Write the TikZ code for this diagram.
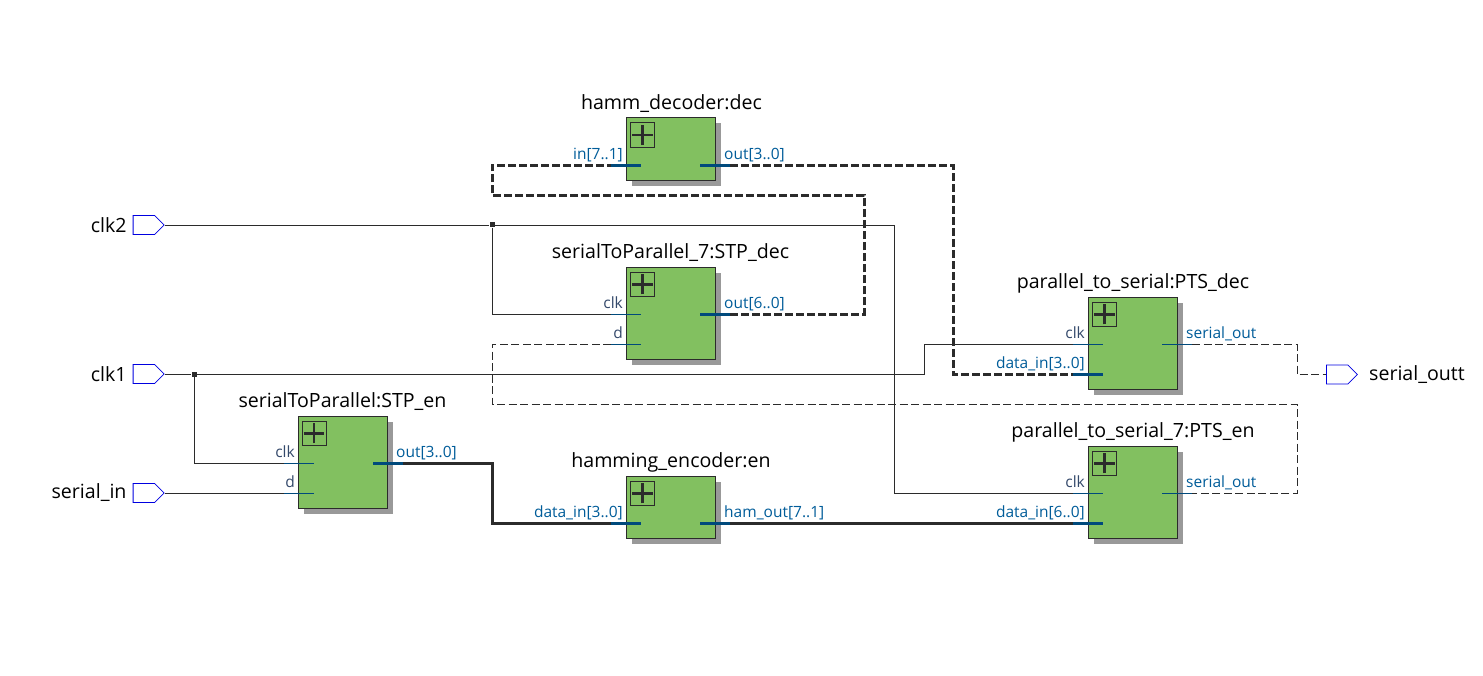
\documentclass[tikz,border=0pt]{standalone}
\usepackage{fontspec}
\setmainfont{Open Sans}
\usetikzlibrary{positioning,calc,shadows,shapes.symbols}
\definecolor{blockgreen}{HTML}{82C060}
\definecolor{wiredark}{HTML}{2B2B2B}
\definecolor{portblue}{HTML}{005C99}
\definecolor{portdark}{HTML}{34496B}
\definecolor{stubblue}{HTML}{004A7C}
\definecolor{pinblue}{HTML}{0000E0}
\tikzset{
  blockbox/.style={draw=wiredark,line width=0.9pt,fill=blockgreen,anchor=north west,inner sep=0pt,
    minimum width=89pt,general shadow={fill=black!40,shadow xshift=5.5pt,shadow yshift=-5.5pt}},
  plusbox/.style={draw=wiredark,line width=0.7pt,anchor=north west,inner sep=0pt,minimum size=24.4pt,
    path picture={\draw[wiredark,line width=2.8pt]
      ([xshift=2pt]path picture bounding box.west) -- ([xshift=-2pt]path picture bounding box.east)
      ([yshift=2pt]path picture bounding box.south) -- ([yshift=-2pt]path picture bounding box.north);}},
  title/.style={font=\fontsize{19.6}{22}\selectfont,text=black,anchor=base,inner sep=0pt},
  pinname/.style={font=\fontsize{19.6}{22}\selectfont,text=black,inner sep=0pt},
  portname/.style={font=\fontsize{15.5}{18}\selectfont,text=portblue,inner sep=0pt,anchor=base},
  clkname/.style={portname,text=portdark},
  pin/.style={shape=signal,signal to=east,signal pointer angle=90,draw=pinblue,line width=0.8pt,
    fill=white,minimum width=31pt,minimum height=19pt,inner sep=0pt},
  wire/.style={draw=wiredark,line width=0.9pt},
  bus/.style={draw=wiredark,line width=3pt},
  wirestub/.style={draw=stubblue,line width=0.9pt},
  busstub/.style={draw=stubblue,line width=3pt},
  junction/.style={fill=wiredark,inner sep=0pt,minimum size=5pt},
}
\begin{document}
\begin{tikzpicture}[x=1pt,y=-1pt]
\useasboundingbox (0,0) rectangle (1483,676);
% blocks
\node[blockbox,minimum height=62.5pt] (dec) at (626.3,117.5) {};
\node[blockbox,minimum height=92.5pt] (stpdec) at (626.3,266.7) {};
\node[blockbox,minimum height=92.5pt] (ptsdec) at (1088.3,296.7) {};
\node[blockbox,minimum height=92.5pt] (ptsen) at (1088.3,445.7) {};
\node[blockbox,minimum height=92.5pt] (stpen) at (297.8,415.7) {};
\node[blockbox,minimum height=62.5pt] (en) at (626.3,475.7) {};
\foreach \b/\t in {dec/icondec,stpdec/iconstpdec,ptsdec/iconptsdec,ptsen/iconptsen,stpen/iconstpen,en/iconen}
  \node[plusbox] (\t) at ([xshift=3.7pt,yshift=-5pt]\b.north west) {};
\node[title] (tdec) at (671.5,109.7) {hamm\_decoder:dec};
\node[title] (tstpdec) at (670.5,258.7) {serialToParallel\_7:STP\_dec};
\node[title] (tptsdec) at (1133,288.7) {parallel\_to\_serial:PTS\_dec};
\node[title] (tptsen) at (1133,437.7) {parallel\_to\_serial\_7:PTS\_en};
\node[title] (tstpen) at (342.5,407.7) {serialToParallel:STP\_en};
\node[title] (ten) at (671,467.7) {hamming\_encoder:en};
% pins
\node[pin,anchor=east] (clk2) at (164.7,225) {};
\node[pin,anchor=east] (clk1) at (164.7,374) {};
\node[pin,anchor=east] (serialin) at (164.7,493) {};
\node[pin,anchor=west] (serialoutt) at (1326,374.5) {};
\node[pinname,left=6pt of clk2] (lclk2) {clk2};
\node[pinname,left=6pt of clk1] (lclk1) {clk1};
\node[pinname,left=6pt of serialin] (lserialin) {serial\_in};
\node[pinname,right=11pt of serialoutt] (lserialoutt) {serial\_outt};
% port ends
\coordinate (decin) at (611,165.4);
\coordinate (decinb) at (641,165.4);
\coordinate (decout) at (700,165.4);
\coordinate (decoutb) at (730,165.4);
\coordinate (stpdecclk) at (611,314);
\coordinate (stpdecclkb) at (641,314);
\coordinate (stpdecd) at (611,344);
\coordinate (stpdecdb) at (641,344);
\coordinate (stpdecout) at (700,314.4);
\coordinate (stpdecoutb) at (730,314.4);
\coordinate (ptsdecclk) at (1073,344);
\coordinate (ptsdecclkb) at (1103,344);
\coordinate (ptsdecdata) at (1073,374.4);
\coordinate (ptsdecdatab) at (1103,374.4);
\coordinate (ptsdecout) at (1162,344);
\coordinate (ptsdecoutb) at (1192,344);
\coordinate (ptsenclk) at (1073,493);
\coordinate (ptsenclkb) at (1103,493);
\coordinate (ptsendata) at (1073,523);
\coordinate (ptsendatab) at (1103,523);
\coordinate (ptsenout) at (1162,493);
\coordinate (ptsenoutb) at (1192,493);
\coordinate (stpenclk) at (284,463);
\coordinate (stpenclkb) at (314,463);
\coordinate (stpend) at (284,493);
\coordinate (stpendb) at (314,493);
\coordinate (stpenout) at (373,463.2);
\coordinate (stpenoutb) at (403,463.2);
\coordinate (endata) at (611,523);
\coordinate (endatab) at (641,523);
\coordinate (enout) at (700,523);
\coordinate (enoutb) at (730,523);
% junctions
\node[junction] (jclk2) at (492,225) {};
\node[junction] (jclk1) at (194,374) {};
% wires
\draw[wire] (clk2.east) -- (jclk2) -- (894,225) |- (ptsenclk);
\draw[wire] (jclk2) |- (stpdecclk);
\draw[wire] (clk1.east) -- (jclk1) -- (924,374) |- (ptsdecclk);
\draw[wire] (jclk1) |- (stpenclk);
\draw[wire] (serialin.east) -- (stpend);
\draw[bus] (stpenoutb) -- (492,463.2) |- (endata);
\draw[bus] (enoutb) -- (ptsendata);
\draw[bus,dash pattern=on 8pt off 3pt] (decoutb) -- (953,165.4) |- (ptsdecdata);
\draw[bus,dash pattern=on 8pt off 3pt] (stpdecoutb) -- (864,314.4) |- (492,195.4) |- (decin);
\draw[wire,dash pattern=on 8pt off 3.5pt] (stpdecd) -- (492,344) |- (1297,404) |- (ptsenoutb);
\draw[wire,dash pattern=on 8pt off 3.5pt] (ptsdecoutb) -- (1297,344) |- (serialoutt.west);
% stubs
\foreach \a/\c in {decin/decinb,decout/decoutb,stpdecout/stpdecoutb,ptsdecdata/ptsdecdatab,ptsendata/ptsendatab,stpenout/stpenoutb,endata/endatab,enout/enoutb}
  \draw[busstub] (\a) -- (\c);
\foreach \a/\c in {stpdecclk/stpdecclkb,stpdecd/stpdecdb,ptsdecclk/ptsdecclkb,ptsdecout/ptsdecoutb,ptsenclk/ptsenclkb,ptsenout/ptsenoutb,stpenclk/stpenclkb,stpend/stpendb}
  \draw[wirestub] (\a) -- (\c);
% port names
\node[portname,anchor=base east] (pdecin) at (623,159.6) {in[7..1]};
\node[portname,anchor=base west] (pdecout) at (724,159.6) {out[3..0]};
\node[clkname,anchor=base east] (pstpdecclk) at (623,308.6) {clk};
\node[clkname,anchor=base east] (pstpdecd) at (623,338.6) {d};
\node[portname,anchor=base west] (pstpdecout) at (724,308.6) {out[6..0]};
\node[clkname,anchor=base east] (pptsdecclk) at (1085,338.6) {clk};
\node[portname,anchor=base east] (pptsdecdata) at (1085,368.6) {data\_in[3..0]};
\node[portname,anchor=base west] (pptsdecout) at (1186,338.6) {serial\_out};
\node[clkname,anchor=base east] (pptsenclk) at (1085,487.6) {clk};
\node[portname,anchor=base east] (pptsendata) at (1085,517.6) {data\_in[6..0]};
\node[portname,anchor=base west] (pptsenout) at (1186,487.6) {serial\_out};
\node[clkname,anchor=base east] (pstpenclk) at (295,457.6) {clk};
\node[clkname,anchor=base east] (pstpend) at (295,487.6) {d};
\node[portname,anchor=base west] (pstpenout) at (396,457.6) {out[3..0]};
\node[portname,anchor=base east] (pendata) at (623,517.6) {data\_in[3..0]};
\node[portname,anchor=base west] (penout) at (724,517.6) {ham\_out[7..1]};
\end{tikzpicture}
\end{document}
